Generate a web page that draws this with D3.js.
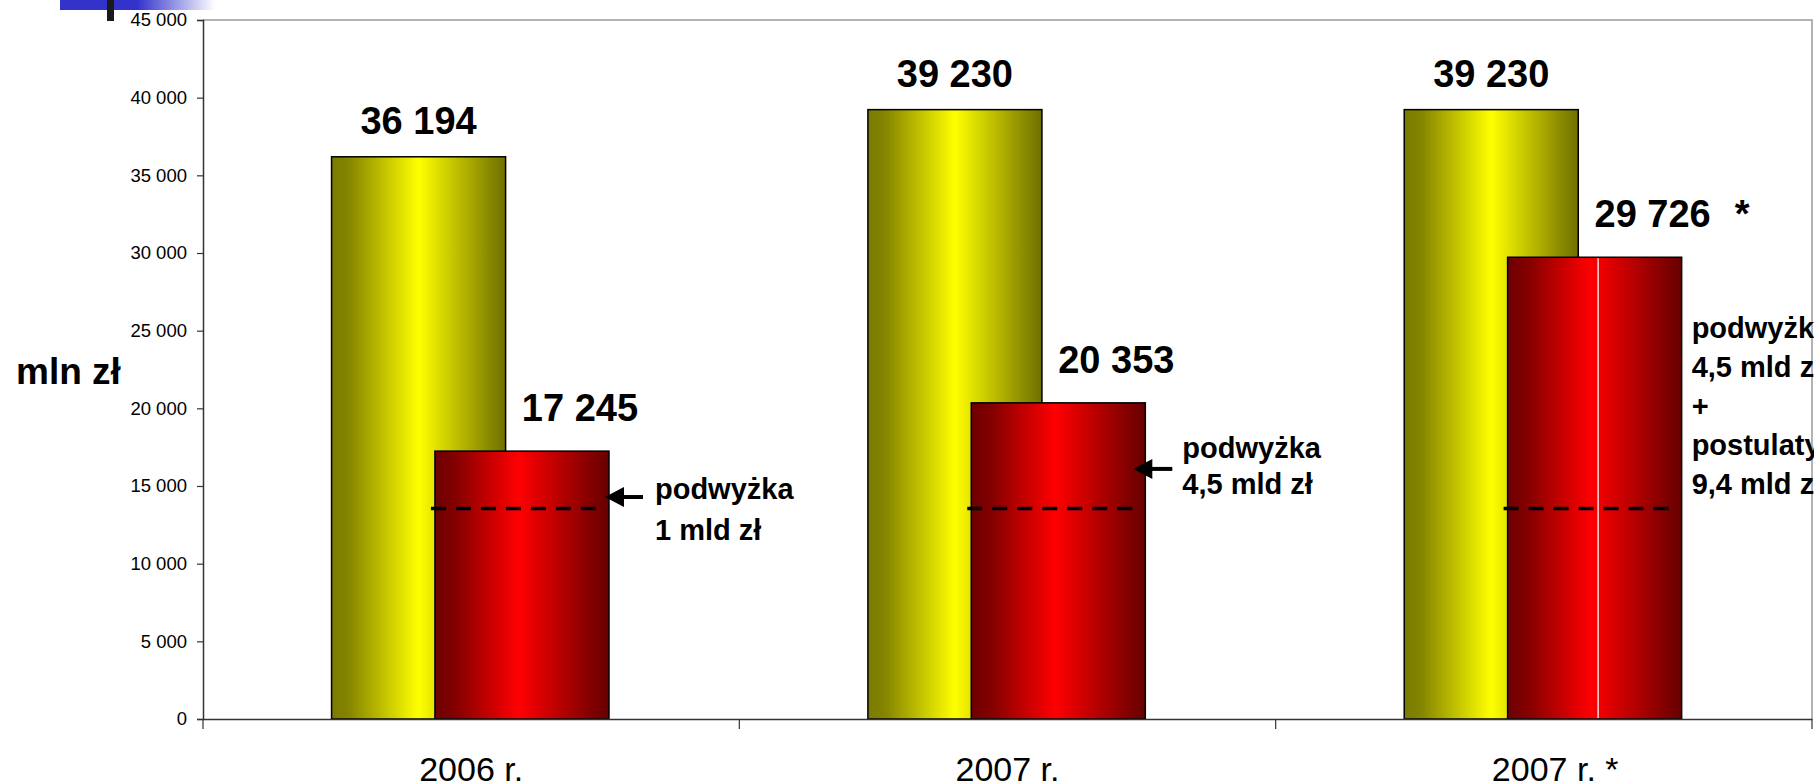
<!DOCTYPE html>
<html>
<head>
<meta charset="utf-8">
<script src="https://cdn.jsdelivr.net/npm/d3@7"></script>
<style>
  html, body { margin: 0; padding: 0; background: #fff; }
  svg { display: block; font-family: "Liberation Sans", Arial, sans-serif; }
</style>
</head>
<body>
<svg id="chart" width="1814" height="783"></svg>
<script>
// ---- data ----
const categories = ["2006 r.", "2007 r.", "2007 r. *"];
const yellowValues = [36194, 39230, 39230];
const redValues = [17245, 20353, 29726];
const redLabelSuffix = ["", "", "*"];
const yTicks = [0, 5000, 10000, 15000, 20000, 25000, 30000, 35000, 40000, 45000];
const dashedLevel = 13550;
const noteLines = [
  ["podwyżka", "1 mld zł"],
  ["podwyżka", "4,5 mld zł"],
  ["podwyżka", "4,5 mld zł", "+", "postulaty", "9,4 mld zł"]
];
const noteTopValue = [14150, 16800, 24500];
const noteLineStep = [41, 36, 39];
const noteDx = [46, 37, 10];
const arrowValue = [14290, 16100, null];
const arrowTipDx = [-4, -12, 0];
const arrowTailDx = [34, 27, 0];
const yAxisTitle = "mln zł";

// ---- layout ----
const svg = d3.select("#chart");
const pLeft = 203, pRight = 1812, pTop = 20, pBottom = 719;
const x = d3.scaleBand().domain(categories).range([pLeft, pRight]).paddingInner(0).paddingOuter(0);
const y = d3.scaleLinear().domain([0, 45000]).range([pBottom, pTop]);
const bw = x.bandwidth() * 0.3245;
const yOff = x.bandwidth() * 0.2397;
const rOff = yOff + bw * 0.594;

const fmt = v => d3.format(",")(v).replace(/,/g, " ");

// gradients
const defs = svg.append("defs");
const gy = defs.append("linearGradient").attr("id", "gYellow").attr("x1", "0").attr("x2", "1").attr("y1", "0").attr("y2", "0");
gy.append("stop").attr("offset", "0").attr("stop-color", "#7a7a00");
gy.append("stop").attr("offset", "0.1").attr("stop-color", "#858500");
gy.append("stop").attr("offset", "0.5").attr("stop-color", "#ffff00");
gy.append("stop").attr("offset", "0.9").attr("stop-color", "#8a8a00");
gy.append("stop").attr("offset", "1").attr("stop-color", "#707000");
const gr = defs.append("linearGradient").attr("id", "gRed").attr("x1", "0").attr("x2", "1").attr("y1", "0").attr("y2", "0");
gr.append("stop").attr("offset", "0").attr("stop-color", "#6e0000");
gr.append("stop").attr("offset", "0.12").attr("stop-color", "#850000");
gr.append("stop").attr("offset", "0.48").attr("stop-color", "#ff0000");
gr.append("stop").attr("offset", "0.88").attr("stop-color", "#880000");
gr.append("stop").attr("offset", "1").attr("stop-color", "#660000");
const gb = defs.append("linearGradient").attr("id", "gBlue").attr("x1", "0").attr("x2", "1");
gb.append("stop").attr("offset", "0").attr("stop-color", "#3333cc");
gb.append("stop").attr("offset", "0.5").attr("stop-color", "#3333cc");
gb.append("stop").attr("offset", "1").attr("stop-color", "#ffffff");

// slide decoration
svg.append("rect").attr("x", 60).attr("y", 0).attr("width", 155).attr("height", 10).attr("fill", "url(#gBlue)");
svg.append("rect").attr("x", 107).attr("y", 0).attr("width", 7).attr("height", 21).attr("fill", "#1a1a1a");

// plot border (top, right)
svg.append("path").attr("d", `M${pLeft},${pTop}H${pRight}V${pBottom}`).attr("fill", "none").attr("stroke", "#9a9a9a").attr("stroke-width", 1.5);

// bars
const g = svg.append("g");
categories.forEach((c, i) => {
  const x0 = x(c);
  g.append("rect").attr("x", x0 + yOff).attr("y", y(yellowValues[i])).attr("width", bw)
    .attr("height", y(0) - y(yellowValues[i])).attr("fill", "url(#gYellow)").attr("stroke", "#000").attr("stroke-width", 1.5);
  g.append("rect").attr("x", x0 + rOff).attr("y", y(redValues[i])).attr("width", bw)
    .attr("height", y(0) - y(redValues[i])).attr("fill", "url(#gRed)").attr("stroke", "#000").attr("stroke-width", 1.5);
  if (redLabelSuffix[i]) {
    g.append("line").attr("x1", x0 + rOff + bw * 0.52).attr("x2", x0 + rOff + bw * 0.52)
      .attr("y1", y(redValues[i]) + 1).attr("y2", y(0) - 1).attr("stroke", "#fff").attr("stroke-width", 1.3);
  }
  // dashed level
  g.append("line").attr("x1", x0 + rOff - 4).attr("x2", x0 + rOff + bw - 12)
    .attr("y1", y(dashedLevel)).attr("y2", y(dashedLevel))
    .attr("stroke", "#000").attr("stroke-width", 3.5).attr("stroke-dasharray", "15,10");
  // value labels
  g.append("text").attr("x", x0 + yOff + bw / 2).attr("y", y(yellowValues[i]) - 23)
    .attr("text-anchor", "middle").attr("font-size", 38).attr("font-weight", "bold").text(fmt(yellowValues[i]));
  const rl = g.append("text").attr("x", x0 + rOff + bw / 2 + 58).attr("y", y(redValues[i]) - 30)
    .attr("text-anchor", "middle").attr("font-size", 38).attr("font-weight", "bold").text(fmt(redValues[i]));
  if (redLabelSuffix[i]) {
    const bb = rl.node().getBBox();
    g.append("text").attr("x", bb.x + bb.width + 24).attr("y", y(redValues[i]) - 30)
      .attr("font-size", 38).attr("font-weight", "bold").text(redLabelSuffix[i]);
  }
  // notes
  const rx = x0 + rOff + bw;
  const t = g.append("text").attr("font-size", 29).attr("font-weight", "bold");
  noteLines[i].forEach((ln, k) => {
    t.append("tspan").attr("x", rx + noteDx[i]).attr("y", y(noteTopValue[i]) + k * noteLineStep[i]).text(ln);
  });
  if (arrowValue[i] !== null) {
    const ay = y(arrowValue[i]);
    const tip = rx + arrowTipDx[i], tail = rx + arrowTailDx[i];
    g.append("line").attr("x1", tip + 14).attr("x2", tail).attr("y1", ay).attr("y2", ay).attr("stroke", "#000").attr("stroke-width", 4);
    g.append("path").attr("d", `M${tip},${ay}L${tip + 19},${ay - 10}L${tip + 19},${ay + 10}Z`).attr("fill", "#000");
  }
});

// y axis
const ya = svg.append("g").attr("transform", `translate(${pLeft},0)`)
  .call(d3.axisLeft(y).tickValues(yTicks).tickSize(6).tickPadding(10).tickFormat(fmt));
ya.select(".domain").attr("stroke", "#333").attr("stroke-width", 1.5);
ya.selectAll(".tick line").attr("stroke", "#333").attr("stroke-width", 1.2);
ya.selectAll("text").attr("font-size", 18.5).attr("fill", "#000").attr("font-family", "Liberation Sans, Arial, sans-serif");

// x axis
const xa = svg.append("g").attr("transform", `translate(0,${pBottom})`)
  .call(d3.axisBottom(x).tickSize(0).tickFormat(d => d));
xa.select(".domain").attr("stroke", "#333").attr("stroke-width", 1.5);
xa.selectAll(".tick text").attr("font-size", 34).attr("fill", "#000").attr("y", 62).attr("dy", 0)
  .attr("font-family", "Liberation Sans, Arial, sans-serif")
  .each(function(d) {
    const parts = d.split(" *");
    if (parts.length > 1) {
      const el = d3.select(this);
      el.text(parts[0]);
      const w = this.getComputedTextLength();
      el.attr("text-anchor", "start").attr("x", -w / 2);
      el.append("tspan").text(" *");
    }
  });
// category boundary ticks
const bounds = categories.map(c => x(c)).concat([pRight]);
svg.append("g").selectAll("line").data(bounds).join("line")
  .attr("x1", d => d).attr("x2", d => d).attr("y1", pBottom).attr("y2", pBottom + 10)
  .attr("stroke", "#333").attr("stroke-width", 1.2);

// y axis title
svg.append("text").attr("x", 16).attr("y", 384).attr("font-size", 37).attr("font-weight", "bold").text(yAxisTitle);
</script>
</body>
</html>
